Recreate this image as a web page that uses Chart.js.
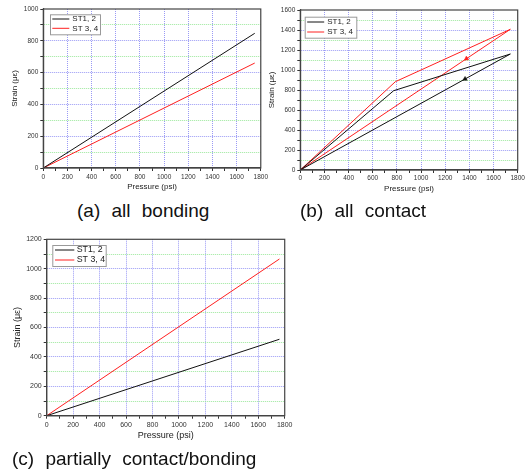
<!DOCTYPE html>
<html>
<head>
<meta charset="utf-8">
<script src="https://cdn.jsdelivr.net/npm/chart.js@4.4.1/dist/chart.umd.min.js"></script>
<style>
    body { margin: 0; background: #fff; width: 527px; height: 474px; position: relative; overflow: hidden; }
    canvas { position: absolute; }
    .caption {
        position: absolute;
        font-family: 'Liberation Sans', Arial, sans-serif;
        font-size: 19px;
        color: #111;
        word-spacing: 6px;
        white-space: nowrap;
    }
</style>
</head>
<body>
<canvas id="chartA" width="270" height="200" style="left:0;top:0"></canvas>
<canvas id="chartB" width="262" height="200" style="left:265px;top:0"></canvas>
<canvas id="chartC" width="295" height="225" style="left:0;top:225px"></canvas>
<div class="caption" style="left:77px;top:200px">(a) all bonding</div>
<div class="caption" style="left:300px;top:200px">(b) all contact</div>
<div class="caption" style="left:12px;top:448px">(c) partially contact/bonding</div>

<script>
// (a) all bonding
const pressureA = [0, 1750];
const bondST12 = [0, 847];
const bondST34 = [0, 660];

// (b) all contact - loading then unloading back to zero
const pressureB12 = [0, 773, 1739, 0];
const contactST12 = [0, 793, 1160, 0];
const pressureB34 = [0, 787, 1739, 0];
const contactST34 = [0, 883, 1407, 0];
// small arrow heads on the unloading branches
const arrowPressure12 = [1364];
const arrowStrain12 = [910];
const arrowPressure34 = [1376];
const arrowStrain34 = [1113];

// (c) partially contact/bonding
const pressureC = [0, 1760];
const partialST12 = [0, 520];
const partialST34 = [0, 1066];

const seriesNames = ['ST1, 2', 'ST 3, 4'];
const xMax = 1800;
const yMaxA = 1000, yMaxB = 1600, yMaxC = 1200;

const FONT = "'Liberation Sans', Arial, sans-serif";
const BLUE = '#9a9af5';
const GREEN = '#9be89b';

function toPoints(xs, ys) {
    return xs.map((x, i) => ({ x: x, y: ys[i] }));
}

// frame round the plot + legend box inside the top-left corner
const framePlugin = {
    id: 'frame',
    afterDraw(chart, args, opts) {
        const { ctx, chartArea: a } = chart;
        ctx.save();
        ctx.strokeStyle = '#444';
        ctx.lineWidth = 1.2;
        ctx.strokeRect(a.left, a.top, a.right - a.left, a.bottom - a.top);

        // legend
        const lx = a.left + opts.dx, ly = a.top + opts.dy;
        ctx.fillStyle = '#fff';
        ctx.fillRect(lx, ly, opts.w, opts.h);
        ctx.strokeStyle = '#999';
        ctx.lineWidth = 1;
        ctx.strokeRect(lx + 0.5, ly + 0.5, opts.w, opts.h);
        ctx.font = opts.fontSize + 'px ' + FONT;
        ctx.textBaseline = 'middle';
        const named = chart.data.datasets.filter(d => d.label);
        named.forEach((d, i) => {
            const y = ly + opts.row0 + i * opts.rowH;
            ctx.strokeStyle = d.borderColor;
            ctx.lineWidth = 1;
            ctx.beginPath();
            ctx.moveTo(lx + opts.lineX0, y);
            ctx.lineTo(lx + opts.lineX1, y);
            ctx.stroke();
            ctx.fillStyle = '#222';
            ctx.fillText(d.label, lx + opts.textX, y);
        });
        ctx.restore();
    }
};

function makeChart(id, sets, yMax, lay) {
    const ctx = document.getElementById(id).getContext('2d');
    return new Chart(ctx, {
        type: 'line',
        data: { datasets: sets },
        plugins: [framePlugin],
        options: {
            responsive: false,
            animation: false,
            layout: { padding: { top: lay.top, right: lay.right, left: 0, bottom: 0 } },
            plugins: {
                legend: { display: false },
                tooltip: { enabled: false },
                frame: lay.legend
            },
            elements: { point: { radius: 0 }, line: { borderWidth: 1, tension: 0 } },
            scales: {
                x: {
                    type: 'linear',
                    min: 0, max: xMax,
                    afterFit: s => { s.height = lay.xh; },
                    ticks: {
                        stepSize: 100, autoSkip: false, maxRotation: 0,
                        padding: lay.xpad,
                        color: '#333',
                        font: { family: FONT, size: lay.tick },
                        callback: v => (v % 200 === 0 ? v : '')
                    },
                    grid: {
                        color: c => (c.tick && c.tick.value % 200 === 0 && c.tick.value > 0 && c.tick.value < xMax) ? BLUE : 'rgba(0,0,0,0)',
                        tickColor: '#333',
                        tickLength: 3,
                        lineWidth: 1
                    },
                    border: { color: '#444', width: 1.2, dash: [1, 1] },
                    title: {
                        display: true, text: 'Pressure (psi)', color: '#222',
                        font: { family: FONT, size: lay.title },
                        padding: { top: 0, bottom: lay.xtpad }
                    }
                },
                y: {
                    type: 'linear',
                    min: 0, max: yMax,
                    afterFit: s => { s.width = lay.yw; },
                    ticks: {
                        stepSize: 100, autoSkip: false,
                        padding: 2,
                        color: '#333',
                        font: { family: FONT, size: lay.tick },
                        callback: v => (v % 200 === 0 ? v : '')
                    },
                    grid: {
                        color: c => {
                            if (!c.tick || c.tick.value <= 0 || c.tick.value >= yMax) return 'rgba(0,0,0,0)';
                            return c.tick.value % 200 === 0 ? BLUE : GREEN;
                        },
                        tickColor: '#333',
                        tickLength: 3,
                        lineWidth: 1
                    },
                    border: { color: '#444', width: 1.2, dash: [1, 1] },
                    title: {
                        display: true, text: 'Strain (με)', color: '#222',
                        font: { family: FONT, size: lay.title },
                        padding: { top: lay.ytpad, bottom: 0 }
                    }
                }
            }
        }
    });
}

makeChart('chartA', [
    { label: seriesNames[0], data: toPoints(pressureA, bondST12), borderColor: '#111' },
    { label: seriesNames[1], data: toPoints(pressureA, bondST34), borderColor: '#ff2020' }
], yMaxA, {
    top: 9, right: 9, yw: 43.3, xh: 32, xpad: 2, xtpad: 8, ytpad: 10, tick: 6.5, title: 8,
    legend: { dx: 6.7, dy: 5.3, w: 50, h: 20, row0: 4.7, rowH: 9.3, lineX0: 2.3, lineX1: 19.3, textX: 22.3, fontSize: 8 }
});

makeChart('chartB', [
    { label: seriesNames[0], data: toPoints(pressureB12, contactST12), borderColor: '#111' },
    { label: seriesNames[1], data: toPoints(pressureB34, contactST34), borderColor: '#ff2020' },
    { data: toPoints(arrowPressure12, arrowStrain12), borderColor: '#111', backgroundColor: '#111', showLine: false,
      pointStyle: 'triangle', pointRadius: 2.6, pointRotation: 241, borderWidth: 0.5 },
    { data: toPoints(arrowPressure34, arrowStrain34), borderColor: '#ff2020', backgroundColor: '#ff2020', showLine: false,
      pointStyle: 'triangle', pointRadius: 2.6, pointRotation: 236, borderWidth: 0.5 }
], yMaxB, {
    top: 10, right: 9.3, yw: 35.3, xh: 30, xpad: 1, xtpad: 6, ytpad: 1.5, tick: 6.5, title: 8,
    legend: { dx: 4.4, dy: 6.7, w: 51.6, h: 21, row0: 5.3, rowH: 10, lineX0: 2.5, lineX1: 19.5, textX: 22.5, fontSize: 8 }
});

makeChart('chartC', [
    { label: seriesNames[0], data: toPoints(pressureC, partialST12), borderColor: '#111' },
    { label: seriesNames[1], data: toPoints(pressureC, partialST34), borderColor: '#ff2020' }
], yMaxC, {
    top: 14.3, right: 8, yw: 46.7, xh: 34.3, xpad: 2.5, xtpad: 9, ytpad: 12.6, tick: 7, title: 9,
    legend: { dx: 5.6, dy: 5.7, w: 53.4, h: 21, row0: 5, rowH: 10, lineX0: 2.7, lineX1: 22, textX: 24.4, fontSize: 8.8 }
});
</script>
</body>
</html>
